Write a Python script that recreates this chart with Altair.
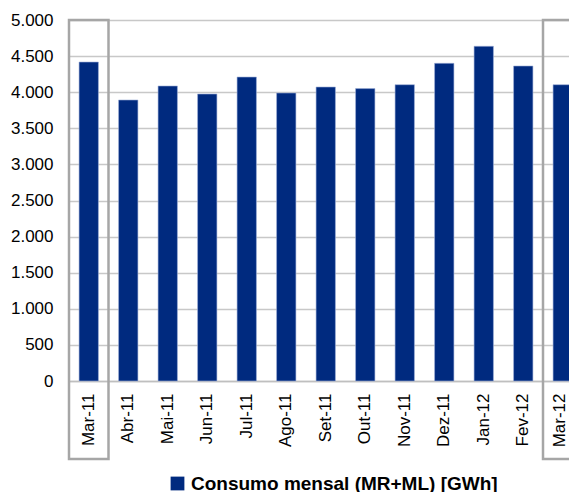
import altair as alt
import pandas as pd

months = ["Mar-11", "Abr-11", "Mai-11", "Jun-11", "Jul-11", "Ago-11", "Set-11",
          "Out-11", "Nov-11", "Dez-11", "Jan-12", "Fev-12", "Mar-12"]
consumo = [4418, 3892, 4086, 3975, 4210, 3989, 4072, 4050, 4104, 4400, 4636, 4363, 4104]
boxed = ["Mar-11", "Mar-12"]
series_name = "Consumo mensal (MR+ML) [GWh]"

df = pd.DataFrame({"mes": months, "valor": consumo, "serie": series_name})
box_df = pd.DataFrame({"mes": boxed})

xscale = alt.Scale(domain=months, paddingInner=0, paddingOuter=0, range=[0, 513.5])
font = "Liberation Sans"

bars = alt.Chart(df).mark_bar(width=alt.RelativeBandSize(0.49), stroke="#9fb0d8", strokeWidth=0.6).encode(
    x=alt.X("mes:N", scale=xscale, sort=months, title=None,
            axis=alt.Axis(labelAngle=270, labelFont=font, labelFontSize=17, labelColor="#000000",
                          labelPadding=12, ticks=False, domainColor="#bfbfbf", domainWidth=1.5,
                          labelBaseline="middle", labelAlign="right",
                          labelOffset={"condition": {"test": "datum.value === 'Mar-12'", "value": -3},
                                       "value": 0})),
    y=alt.Y("valor:Q", scale=alt.Scale(domain=[0, 5000], nice=False), title=None,
            axis=alt.Axis(values=list(range(0, 5001, 500)), ticks=False, domain=False,
                          labelFont=font, labelFontSize=17, labelColor="#000000", labelPadding=16,
                          gridColor="#c8c8c8", gridWidth=1.5,
                          labelExpr="replace(format(datum.value, ',d'), ',', '.')")),
    color=alt.Color("serie:N", scale=alt.Scale(domain=[series_name], range=["#002A7F"]), title=None,
                    legend=alt.Legend(orient="none", legendX=99, legendY=454, symbolType="square",
                                      symbolSize=190, symbolStrokeWidth=0, labelFont=font,
                                      labelFontSize=19, labelFontWeight="bold", labelColor="#000000",
                                      labelLimit=500, labelOffset=4)),
)

boxes = alt.Chart(box_df).mark_rect(fill=None, stroke="#a6a6a6", strokeWidth=2.5, clip=False).encode(
    x=alt.X("mes:N", scale=xscale, sort=months),
    y=alt.value(0),
    y2=alt.value(439),
)

chart = alt.layer(bars, boxes).properties(
    width=500, height=361,
    autosize="none",
    padding={"left": 61, "top": 12, "right": 0, "bottom": 111},
).configure_view(stroke=None)

chart.save("out.html", embed_options={"renderer": "svg", "actions": False})
